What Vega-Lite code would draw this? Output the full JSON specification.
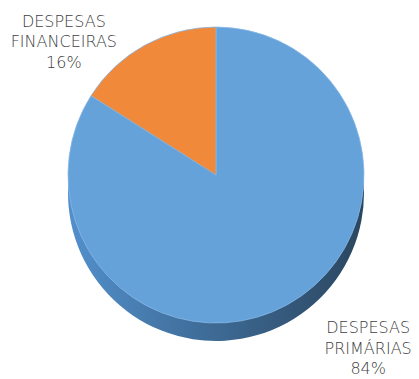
{
  "$schema": "https://vega.github.io/schema/vega-lite/v6.json",
  "width": 406,
  "height": 350,
  "autosize": "none",
  "padding": {"left": 13, "right": 0, "top": 0, "bottom": 29},
  "background": "white",
  "config": {"view": {"stroke": null}},
  "data": {
    "values": [
      {"categoria": "DESPESAS PRIMÁRIAS", "rotulo": "DESPESAS\nPRIMÁRIAS\n84%", "valor": 84},
      {"categoria": "DESPESAS FINANCEIRAS", "rotulo": "DESPESAS\nFINANCEIRAS\n16%", "valor": 16}
    ]
  },
  "encoding": {
    "theta": {"field": "valor", "type": "quantitative", "stack": true},
    "order": {"field": "valor", "type": "quantitative", "sort": "descending"}
  },
  "layer": [
    {
      "mark": {
        "type": "arc",
        "outerRadius": 148,
        "yOffset": 18,
        "color": {
          "gradient": "linear",
          "x1": 0, "y1": 0, "x2": 1, "y2": 0,
          "stops": [
            {"offset": 0, "color": "#5290cc"},
            {"offset": 0.45, "color": "#3f6d99"},
            {"offset": 1, "color": "#2b465f"}
          ]
        }
      },
      "encoding": {}
    },
    {
      "mark": {"type": "arc", "outerRadius": 148, "stroke": "#86b8e6", "strokeWidth": 0.8},
      "encoding": {
        "color": {
          "field": "categoria",
          "type": "nominal",
          "scale": {"domain": ["DESPESAS PRIMÁRIAS", "DESPESAS FINANCEIRAS"], "range": ["#65a2da", "#f0893a"]},
          "legend": null
        }
      }
    },
    {
      "mark": {"type": "text", "radius": 216, "thetaOffset": -0.279, "lineBreak": "\n", "font": "DejaVu Sans", "fontWeight": 200, "fontSize": 16, "color": "#404040", "align": "center", "baseline": "middle", "lineHeight": 20.5},
      "encoding": {
        "text": {"field": "rotulo"}
      }
    }
  ]
}
